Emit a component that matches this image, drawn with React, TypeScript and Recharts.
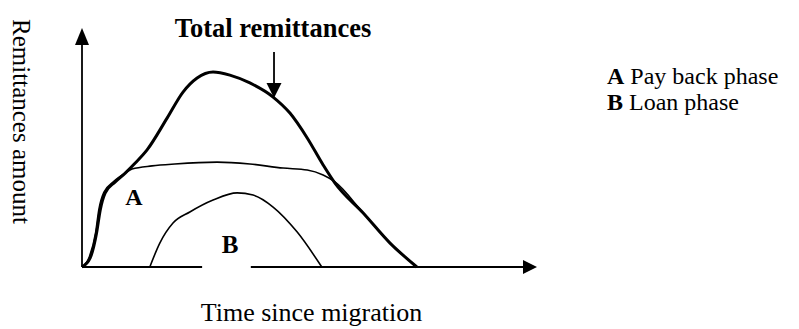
import { Customized, Line, LineChart, ReferenceDot, ReferenceLine, XAxis, YAxis } from "recharts";

// conceptual curves (time 0-100, amount 0-100)
const totalX = [0, 1.8, 3.2, 4.0, 5.1, 7.3, 9.5, 11.7, 14.3, 18.7, 22.2, 25.3, 28.8, 32.5, 36.9, 42.0, 45.7, 49.5, 53.0, 55.6, 61.8, 67.7, 73.6];
const totalY = [0, 3.8, 14.2, 23.8, 31.0, 35.6, 39.3, 43.5, 49.0, 62.3, 73.2, 79.1, 81.6, 80.3, 77.0, 71.1, 64.4, 54.0, 42.7, 35.1, 22.6, 10.0, 0];

const paybackX = [0, 1.6, 3.0, 3.7, 4.8, 7.0, 9.5, 11.0, 15.4, 20.4, 29.7, 36.9, 44.2, 49.5, 53.0, 55.6, 61.8, 67.7, 73.6];
const paybackY = [0, 4.2, 14.5, 24.0, 31.2, 35.8, 39.3, 41.0, 42.3, 43.1, 43.9, 43.1, 41.4, 40.6, 38.5, 35.6, 22.6, 10.0, 0];

const loanX = [14.9, 17.1, 20.0, 23.7, 28.8, 34.1, 37.6, 42.0, 47.3, 52.7];
const loanY = [0, 10.0, 18.4, 23.0, 28.0, 31.0, 30.1, 25.1, 14.6, 0];

const legendItems = [
  { key: "A", text: " Pay back phase" },
  { key: "B", text: " Loan phase" },
];

const toPoints = (xs: number[], ys: number[]) => xs.map((x, i) => ({ x, y: ys[i] }));

const total = toPoints(totalX, totalY);
const payback = toPoints(paybackX, paybackY);
const loan = toPoints(loanX, loanY);

const font = "'Liberation Serif', 'Times New Roman', serif";

const RightArrow = (props: any) => {
  const { cx, cy } = props;
  return <path d={`M${cx},${cy} L${cx - 14},${cy - 7} L${cx - 14},${cy + 7} Z`} fill="#000" />;
};

const UpArrow = (props: any) => {
  const { cx, cy } = props;
  return <path d={`M${cx},${cy} L${cx - 7},${cy + 17} L${cx + 7},${cy + 17} Z`} fill="#000" />;
};

const DownArrow = (props: any) => {
  const { cx, cy } = props;
  return <path d={`M${cx},${cy} L${cx - 7.5},${cy - 15} L${cx + 7.5},${cy - 15} Z`} fill="#000" />;
};

const Texts = () => (
  <g fontFamily={font} fill="#000">
    <text x={273} y={37} fontSize={26.5} fontWeight="bold" textAnchor="middle">
      Total remittances
    </text>
    {legendItems.map((d, i) => (
      <text key={d.key} x={607} y={84 + i * 26} fontSize={24}>
        <tspan fontWeight="bold">{d.key}</tspan>
        {d.text}
      </text>
    ))}
    <text x={134} y={205} fontSize={24} fontWeight="bold" textAnchor="middle">
      A
    </text>
    <text x={230} y={253} fontSize={25} fontWeight="bold" textAnchor="middle">
      B
    </text>
    <text x={311.5} y={321} fontSize={26} textAnchor="middle">
      Time since migration
    </text>
    <text x={13} y={121.5} fontSize={25} textAnchor="middle" transform="rotate(90, 13, 121.5)">
      Remittances amount
    </text>
  </g>
);

export default function App() {
  return (
    <div style={{ position: "absolute", left: 0, top: 0, background: "#fff" }}>
      <LineChart width={799} height={329} margin={{ top: 28, right: 262, bottom: 62, left: 82 }}>
        <XAxis type="number" dataKey="x" domain={[0, 100]} hide />
        <YAxis type="number" dataKey="y" domain={[0, 100]} hide />

        {/* axes, with the small break in the time axis under "B" */}
        <ReferenceLine segment={[{ x: 0, y: 0 }, { x: 26.4, y: 0 }]} stroke="#000" strokeWidth={2} />
        <ReferenceLine segment={[{ x: 37.1, y: 0 }, { x: 98, y: 0 }]} stroke="#000" strokeWidth={2} />
        <ReferenceLine segment={[{ x: 0, y: 0 }, { x: 0, y: 95 }]} stroke="#000" strokeWidth={1.8} />
        <ReferenceDot x={100} y={0} r={0} shape={RightArrow} />
        <ReferenceDot x={0} y={100} r={0} shape={UpArrow} />

        <Line data={loan} dataKey="y" type="monotone" stroke="#000" strokeWidth={1.6} dot={false} activeDot={false} isAnimationActive={false} />
        <Line data={payback} dataKey="y" type="monotone" stroke="#000" strokeWidth={1.6} dot={false} activeDot={false} isAnimationActive={false} />
        <Line data={total} dataKey="y" type="monotone" stroke="#000" strokeWidth={3} dot={false} activeDot={false} isAnimationActive={false} />

        {/* pointer to the total curve */}
        <ReferenceLine segment={[{ x: 42.2, y: 90 }, { x: 42.2, y: 77 }]} stroke="#000" strokeWidth={1.8} />
        <ReferenceDot x={42.2} y={70.7} r={0} shape={DownArrow} />

        <Customized component={Texts} />
      </LineChart>
    </div>
  );
}
